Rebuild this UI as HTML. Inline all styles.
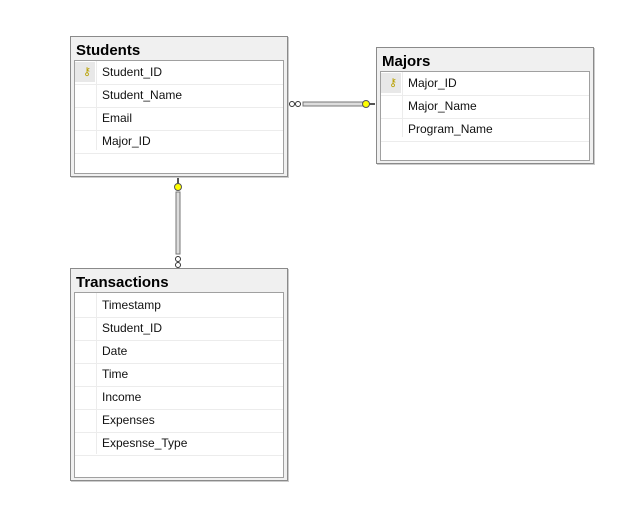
<!DOCTYPE html>
<html><head><style>
body{margin:0;width:625px;height:508px;background:#fff;position:relative;font-family:"Liberation Sans",sans-serif;overflow:hidden}
.t{position:absolute;border:1px solid #8a8a8a;background:#f0f0f0;box-shadow:1px 1px 0 #ccc}
.t .h{position:absolute;left:5px;top:5px;font-weight:bold;font-size:15px;color:#000}
.t .in{position:absolute;left:3px;right:3px;top:23px;bottom:2px;border:1px solid #a0a0a0;background:#fff}
.r{position:absolute;left:0;right:0;height:23px;border-bottom:1px solid #ececec;font-size:12px;line-height:23px;color:#111}
.r span{position:absolute;left:27px}
.g{position:absolute;left:21px;top:0;bottom:23px;border-left:1px solid #ececec}
.k{position:absolute;left:0;top:1px;width:20px;height:20px;background:#e8e8e8}
</style></head><body>
<div class="t" style="left:70px;top:36px;width:216px;height:139px">
 <div class="h">Students</div>
 <div class="in">
  <div class="g"></div>
  <div class="r" style="top:0"><div class="k"></div><span style="left:8px;color:#b8a000;font-size:11px">&#9911;</span><span>Student_ID</span></div>
  <div class="r" style="top:23px"><span>Student_Name</span></div>
  <div class="r" style="top:46px"><span>Email</span></div>
  <div class="r" style="top:69px"><span>Major_ID</span></div>
 </div>
</div>
<div class="t" style="left:376px;top:47px;width:216px;height:115px">
 <div class="h">Majors</div>
 <div class="in">
  <div class="g"></div>
  <div class="r" style="top:0"><div class="k"></div><span style="left:8px;color:#b8a000;font-size:11px">&#9911;</span><span>Major_ID</span></div>
  <div class="r" style="top:23px"><span>Major_Name</span></div>
  <div class="r" style="top:46px"><span>Program_Name</span></div>
 </div>
</div>
<div class="t" style="left:70px;top:268px;width:216px;height:211px">
 <div class="h">Transactions</div>
 <div class="in">
  <div class="g"></div>
  <div class="r" style="top:1px"><span>Timestamp</span></div>
  <div class="r" style="top:24px"><span>Student_ID</span></div>
  <div class="r" style="top:47px"><span>Date</span></div>
  <div class="r" style="top:70px"><span>Time</span></div>
  <div class="r" style="top:93px"><span>Income</span></div>
  <div class="r" style="top:116px"><span>Expenses</span></div>
  <div class="r" style="top:139px"><span>Expesnse_Type</span></div>
 </div>
</div>
<svg width="625" height="508" style="position:absolute;left:0;top:0">
 <rect x="303" y="102" width="60" height="4" fill="#ddd" stroke="#777" stroke-width="1"/>
 <circle cx="292" cy="104" r="2.5" fill="#fff" stroke="#333"/>
 <circle cx="298" cy="104" r="2.5" fill="#fff" stroke="#333"/>
 <circle cx="366" cy="104" r="3.5" fill="#ff0" stroke="#555"/>
 <line x1="369" y1="104" x2="375" y2="104" stroke="#555" stroke-width="2"/>
 <rect x="176" y="192" width="4" height="62" fill="#ddd" stroke="#777" stroke-width="1"/>
 <circle cx="178" cy="187" r="3.5" fill="#ff0" stroke="#555"/>
 <line x1="178" y1="178" x2="178" y2="184" stroke="#555" stroke-width="2"/>
 <circle cx="178" cy="259" r="2.5" fill="#fff" stroke="#333"/>
 <circle cx="178" cy="265" r="2.5" fill="#fff" stroke="#333"/>
</svg>
</body></html>
